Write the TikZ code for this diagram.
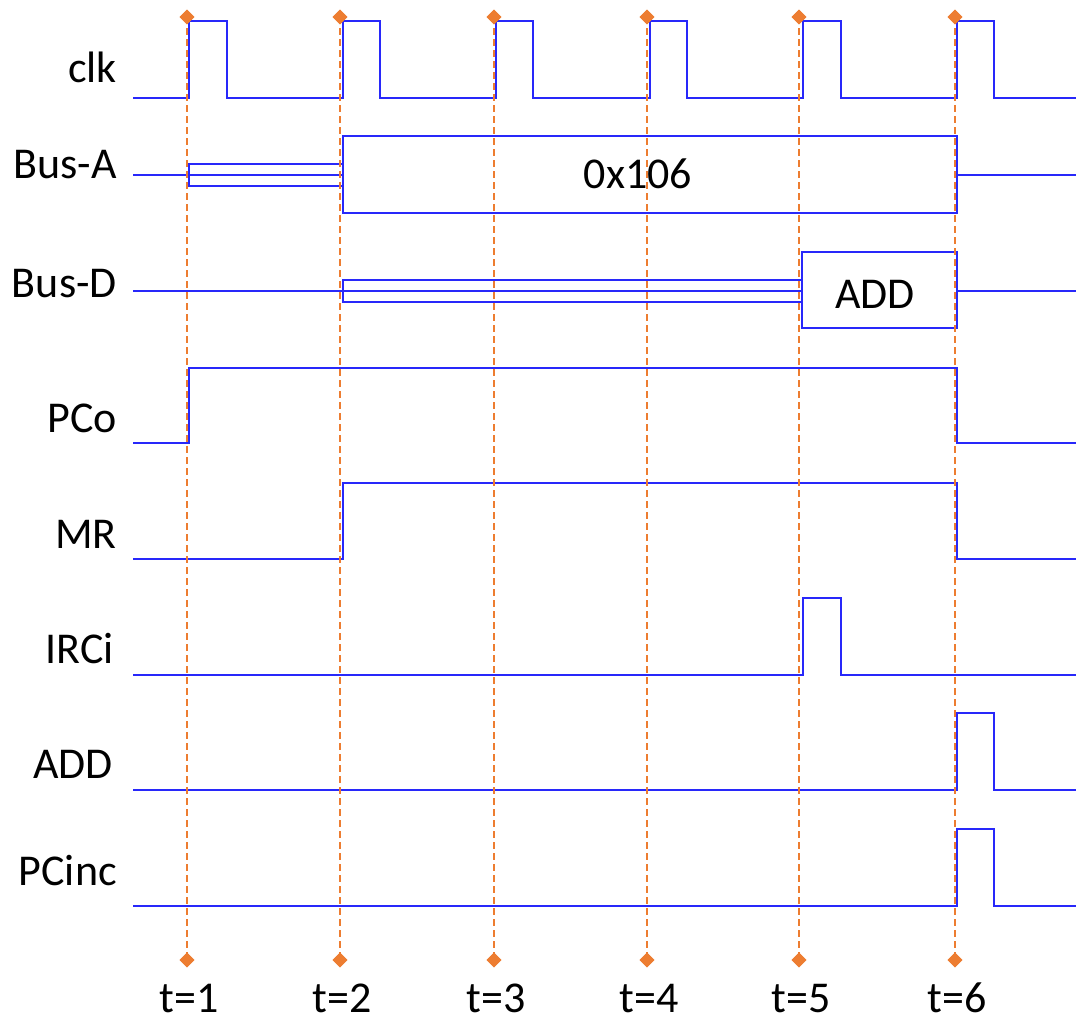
\documentclass[tikz,border=0pt]{standalone}
\usepackage{fontspec}
\setmainfont{Carlito}
\usetikzlibrary{shapes.geometric}
\definecolor{sigblue}{RGB}{40,40,250}
\definecolor{tickorange}{RGB}{237,125,49}
\begin{document}
\begin{tikzpicture}[x=1pt,y=-1pt,
  sig/.style={draw=sigblue,line width=2.4pt,line join=miter},
  tick/.style={draw=tickorange,line width=1.6pt,dash pattern=on 7pt off 4pt},
  markdia/.style={diamond,fill=tickorange,inner sep=0pt,minimum width=15pt,minimum height=15pt},
  lab/.style={anchor=base east,inner sep=0pt,font=\fontsize{44}{50}\selectfont},
  txt/.style={anchor=base,inner sep=0pt,font=\fontsize{44}{50}\selectfont}]
\useasboundingbox (0,0) rectangle (1078,1021);

% signal labels
\node[lab] (lclk)  at (117,82)  {clk};
\node[lab] (lbusa) at (117,178) {Bus-A};
\node[lab] (lbusd) at (117,297) {Bus-D};
\node[lab] (lpco)  at (117,432) {PCo};
\node[lab] (lmr)   at (117,548) {MR};
\node[lab] (lirci) at (114,663) {IRCi};
\node[lab] (ladd)  at (113,778) {ADD};
\node[lab] (lpcinc) at (117,885) {PCinc};

% clk
\draw[sig] (133,98) -- (189,98) -- (189,21) -- (227,21) -- (227,98)
  -- (343,98) -- (343,21) -- (380,21) -- (380,98)
  -- (496,98) -- (496,21) -- (533,21) -- (533,98)
  -- (650,98) -- (650,21) -- (687,21) -- (687,98)
  -- (803,98) -- (803,21) -- (841,21) -- (841,98)
  -- (957,98) -- (957,21) -- (994,21) -- (994,98) -- (1076,98);

% Bus-A
\draw[sig] (133,175) -- (189,175);
\draw[sig] (189,164) rectangle (343,186);
\draw[sig] (189,175) -- (343,175);
\draw[sig] (343,136) rectangle (957,213);
\node[txt] (va) at (638,188) {0x106};
\draw[sig] (957,175) -- (1076,175);

% Bus-D
\draw[sig] (133,291) -- (343,291);
\draw[sig] (343,280) rectangle (802,302);
\draw[sig] (343,291) -- (802,291);
\draw[sig] (802,252) rectangle (957,328);
\node[txt] (vd) at (875,308) {ADD};
\draw[sig] (957,291) -- (1076,291);

% PCo
\draw[sig] (133,443) -- (189,443) -- (189,368) -- (957,368) -- (957,443) -- (1076,443);
% MR
\draw[sig] (133,559) -- (343,559) -- (343,483) -- (957,483) -- (957,559) -- (1076,559);
% IRCi
\draw[sig] (133,675) -- (803,675) -- (803,598) -- (841,598) -- (841,675) -- (1076,675);
% ADD
\draw[sig] (133,790) -- (957,790) -- (957,713) -- (994,713) -- (994,790) -- (1076,790);
% PCinc
\draw[sig] (133,906) -- (957,906) -- (957,829) -- (994,829) -- (994,906) -- (1076,906);

% time markers
\foreach \i/\x in {1/187,2/340,3/494,4/647,5/799,6/955}{
  \node[markdia] (top\i) at (\x,17) {};
  \node[markdia] (bot\i) at (\x,960) {};
  \draw[tick] (top\i.center) -- (bot\i.center);
  \node[markdia] at (top\i) {};
  \node[markdia] at (bot\i) {};
  \node[txt] (t\i) at (\x+2,1012) {t=\i};
}
\end{tikzpicture}
\end{document}
